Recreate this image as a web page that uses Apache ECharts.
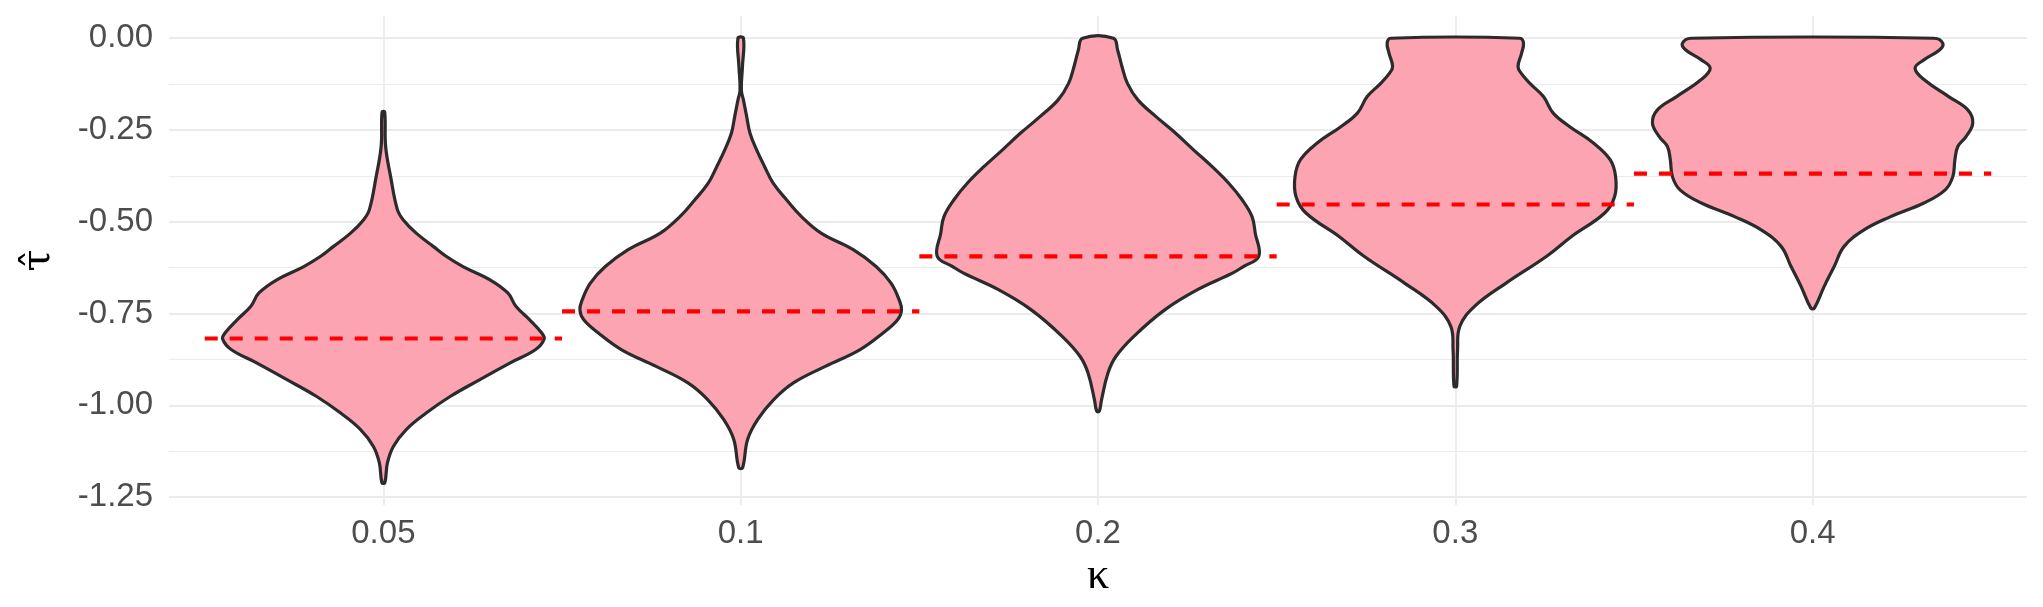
<!DOCTYPE html>
<html>
<head>
<meta charset="utf-8">
<script src="https://cdn.jsdelivr.net/npm/echarts@6/dist/echarts.min.js"></script>
<style>
  html, body { margin: 0; padding: 0; background: #fff; }
  #violin { width: 2043px; height: 607px; }
</style>
</head>
<body>
<div id="violin"></div>
<script>
// categories (kappa) and the dashed red reference level of each group
const kappaLabels = ['0.05', '0.1', '0.2', '0.3', '0.4'];
const refTau = [-0.818, -0.744, -0.594, -0.453, -0.369];

// violin outlines: tau values (top -> bottom) and relative half-width (1 = widest)
const tau005 = [-0.201, -0.295, -0.377, -0.467, -0.495, -0.531, -0.567, -0.594, -0.622, -0.658, -0.694, -0.730, -0.767, -0.803, -0.819, -0.848, -0.885, -0.930, -0.976, -1.021, -1.066, -1.112, -1.157, -1.211];
const wid005 = [0.008, 0.014, 0.045, 0.087, 0.124, 0.204, 0.310, 0.390, 0.495, 0.663, 0.774, 0.824, 0.910, 0.985, 1.000, 0.947, 0.786, 0.600, 0.415, 0.266, 0.142, 0.062, 0.025, 0.009];

const tau01 = [0.000, -0.077, -0.141, -0.168, -0.213, -0.259, -0.304, -0.350, -0.395, -0.440, -0.486, -0.531, -0.576, -0.622, -0.667, -0.712, -0.740, -0.767, -0.803, -0.848, -0.894, -0.939, -0.985, -1.039, -1.093, -1.170];
const wid01 = [0.017, 0.011, 0.004, 0.017, 0.037, 0.058, 0.099, 0.149, 0.202, 0.285, 0.378, 0.500, 0.700, 0.842, 0.935, 0.985, 1.000, 0.976, 0.885, 0.743, 0.526, 0.328, 0.204, 0.105, 0.043, 0.012];

const tau02 = [0.000, -0.032, -0.077, -0.123, -0.168, -0.213, -0.259, -0.304, -0.350, -0.395, -0.440, -0.486, -0.531, -0.594, -0.622, -0.640, -0.685, -0.740, -0.812, -0.867, -0.912, -0.985, -1.016];
const wid02 = [0.096, 0.122, 0.149, 0.183, 0.248, 0.359, 0.483, 0.594, 0.710, 0.813, 0.896, 0.958, 0.978, 1.000, 0.904, 0.836, 0.619, 0.415, 0.223, 0.111, 0.062, 0.022, 0.008];

const tau03 = [0.000, -0.014, -0.041, -0.077, -0.095, -0.123, -0.159, -0.204, -0.241, -0.286, -0.331, -0.377, -0.431, -0.476, -0.540, -0.594, -0.667, -0.731, -0.785, -0.848, -0.948];
const wid03 = [0.402, 0.424, 0.412, 0.390, 0.409, 0.464, 0.548, 0.609, 0.712, 0.861, 0.963, 0.997, 0.991, 0.929, 0.723, 0.568, 0.316, 0.118, 0.028, 0.014, 0.008];

const tau04 = [0.000, -0.014, -0.032, -0.059, -0.082, -0.114, -0.159, -0.195, -0.231, -0.268, -0.295, -0.331, -0.377, -0.413, -0.449, -0.486, -0.522, -0.567, -0.622, -0.676, -0.735];
const wid04 = [0.754, 0.810, 0.789, 0.692, 0.637, 0.697, 0.846, 0.965, 0.996, 0.954, 0.903, 0.885, 0.872, 0.825, 0.692, 0.485, 0.320, 0.196, 0.134, 0.072, 0.011];

// y tick labels and minor grid
const yMajor = [-1.25, -1.0, -0.75, -0.5, -0.25, 0];
const yMinor = [-1.125, -0.875, -0.625, -0.375, -0.125];

const tauList = [tau005, tau01, tau02, tau03, tau04];
const widList = [wid005, wid01, wid02, wid03, wid04];

const halfMax = 0.45;   // widest half-violin, in category units
const allTau = [].concat(...tauList);
const tMin = Math.min(...allTau), tMax = Math.max(...allTau);
const pad = (tMax - tMin) * 0.05;

const chart = echarts.init(document.getElementById('violin'));
const gridColor = '#EBEBEB';
const serif = 'DejaVu Serif, Liberation Serif, serif';
const labelFont = { fontFamily: 'Liberation Sans, Arial, sans-serif', fontSize: 33, color: '#4D4D4D' };

const option = {
  animation: false,
  backgroundColor: '#fff',
  grid: { left: 169, right: 16, top: 16, bottom: 102, containLabel: false, outerBoundsMode: 'none' },
  xAxis: {
    type: 'value',
    min: 0.4,
    max: 5.6,
    name: 'κ',
    nameLocation: 'middle',
    nameGap: 28,
    nameTextStyle: { fontFamily: 'Liberation Serif, serif', fontSize: 44, color: '#000' },
    axisLine: { show: false },
    axisTick: { show: false, customValues: [1, 2, 3, 4, 5] },
    axisLabel: Object.assign({
      customValues: [1, 2, 3, 4, 5],
      margin: 12,
      formatter: v => kappaLabels[Math.round(v) - 1]
    }, labelFont),
    splitLine: { show: true, lineStyle: { color: gridColor, width: 1.8 } }
  },
  yAxis: [
    {
      type: 'value',
      min: tMin - pad,
      max: tMax + pad,
      name: 'τ\u0302',
      nameLocation: 'middle',
      nameRotate: 90,
      nameGap: 110,
      nameTextStyle: { fontFamily: serif, fontSize: 40, color: '#000' },
      axisLine: { show: false },
      axisTick: { show: false, customValues: yMajor },
      axisLabel: Object.assign({
        customValues: yMajor,
        margin: 16,
        formatter: v => v.toFixed(2)
      }, labelFont),
      splitLine: { show: true, lineStyle: { color: gridColor, width: 1.8 } }
    },
    {
      type: 'value',
      min: tMin - pad,
      max: tMax + pad,
      position: 'left',
      axisLine: { show: false },
      axisTick: { show: false, customValues: yMinor },
      axisLabel: { show: false, customValues: yMinor },
      splitLine: { show: true, lineStyle: { color: gridColor, width: 1.2 } }
    }
  ],
  series: [
    {
      type: 'custom',
      name: 'violin',
      data: kappaLabels.map((k, i) => [i + 1, refTau[i]]),
      encode: { x: 0, y: 1 },
      renderItem: function (params, api) {
        const i = params.dataIndex;
        const x0 = api.value(0);
        const ts = tauList[i], ws = widList[i];
        const pts = [];
        for (let j = 0; j < ts.length; j++) pts.push(api.coord([x0 + ws[j] * halfMax, ts[j]]));
        for (let j = ts.length - 1; j >= 0; j--) pts.push(api.coord([x0 - ws[j] * halfMax, ts[j]]));
        return {
          type: 'polygon',
          shape: { points: pts, smooth: 0.4 },
          style: { fill: '#FDA4B3', stroke: '#2B2B2B', lineWidth: 3.2 }
        };
      },
      z: 2
    },
    {
      type: 'custom',
      name: 'reference',
      data: kappaLabels.map((k, i) => [i + 1, refTau[i]]),
      encode: { x: 0, y: 1 },
      renderItem: function (params, api) {
        const x0 = api.value(0), m = api.value(1);
        const a = api.coord([x0 - 0.5, m]);
        const b = api.coord([x0 + 0.5, m]);
        return {
          type: 'line',
          shape: { x1: a[0], y1: a[1], x2: b[0], y2: b[1] },
          style: { stroke: '#FF0000', lineWidth: 4.2, lineDash: [13, 12] }
        };
      },
      z: 3
    }
  ]
};
chart.setOption(option);
</script>
</body>
</html>
